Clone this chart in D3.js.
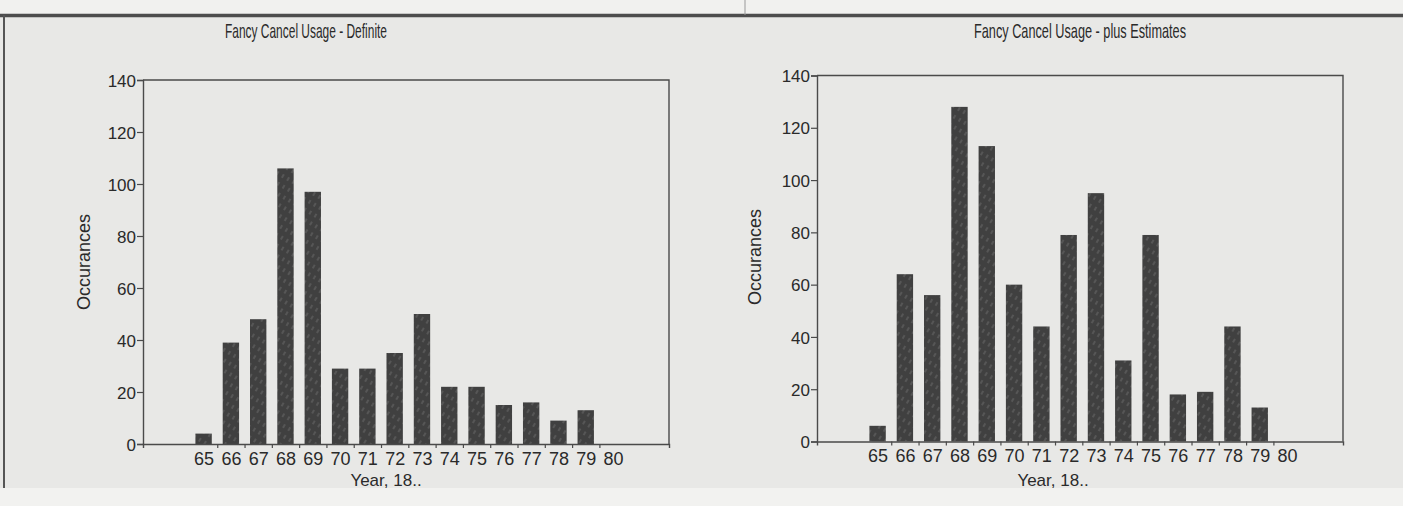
<!DOCTYPE html>
<html>
<head>
<meta charset="utf-8">
<script src="https://cdn.jsdelivr.net/npm/d3@7"></script>
<style>
  body { margin: 0; background: #e8e8e6; }
  svg { display: block; }
  text { fill: #2a2a2a; font-family: "Liberation Sans", Arial, sans-serif; }
</style>
</head>
<body>
<div id="chart"></div>
<script>
// data
const years = [65, 66, 67, 68, 69, 70, 71, 72, 73, 74, 75, 76, 77, 78, 79];
const tickLabels = [65, 66, 67, 68, 69, 70, 71, 72, 73, 74, 75, 76, 77, 78, 79, 80];
const definite = [4, 39, 48, 106, 97, 29, 29, 35, 50, 22, 22, 15, 16, 9, 13];
const estimates = [6, 64, 56, 128, 113, 60, 44, 79, 95, 31, 79, 18, 19, 44, 13];
const yTicks = [0, 20, 40, 60, 80, 100, 120, 140];
const titles = ["Fancy Cancel Usage - Definite", "Fancy Cancel Usage - plus Estimates"];

const W = 1403, H = 506;

const svg = d3.select("#chart")
  .append("svg")
    .attr("width", W)
    .attr("height", H);

// hatch texture for the bars
const defs = svg.append("defs");
const pat = defs.append("pattern")
  .attr("id", "hatch")
  .attr("patternUnits", "userSpaceOnUse")
  .attr("width", 6)
  .attr("height", 9)
  .attr("patternTransform", "rotate(30)");
pat.append("rect").attr("width", 6).attr("height", 9).attr("fill", "#404040");
pat.append("line")
  .attr("x1", 3).attr("y1", 0).attr("x2", 3).attr("y2", 4)
  .attr("stroke", "#6c6c6c").attr("stroke-width", 1);

// paper / frame
svg.append("rect").attr("width", W).attr("height", 14).attr("fill", "#f1f1ef");
svg.append("rect").attr("y", 488).attr("width", W).attr("height", 18).attr("fill", "#f2f2f0");
svg.append("line")
  .attr("x1", 0).attr("x2", W).attr("y1", 15.5).attr("y2", 15.5)
  .attr("stroke", "#4d4d4d").attr("stroke-width", 3.5);
svg.append("line")
  .attr("x1", 4).attr("x2", 4).attr("y1", 15).attr("y2", 488)
  .attr("stroke", "#555").attr("stroke-width", 2);
svg.append("line")
  .attr("x1", 745).attr("x2", 745).attr("y1", 0).attr("y2", 15)
  .attr("stroke", "#999").attr("stroke-width", 1);

// panel layout
const panels = [
  {values: definite, title: titles[0], left: 143, right: 669, top: 80, bottom: 444,
   titleX: 306, titleLen: 162, yLabX: 90, yLabY: 262, xLabX: 386},
  {values: estimates, title: titles[1], left: 817, right: 1343, top: 75.5, bottom: 441.5,
   titleX: 1080, titleLen: 212, yLabX: 761, yLabY: 257, xLabX: 1053}
];

panels.forEach(p => {
  const g = svg.append("g");

  let x = d3.scaleLinear()
    .domain([62.78, 82.05])
    .range([p.left, p.right]);

  let y = d3.scaleLinear()
    .domain([0, 140])
    .range([p.bottom, p.top]);

  // bars
  g.append("g")
    .selectAll("rect")
    .data(years)
    .enter()
    .append("rect")
      .attr("x", (d) => x(d - 0.3))
      .attr("width", (d) => x(d + 0.3) - x(d - 0.3))
      .attr("y", (d, i) => y(p.values[i]))
      .attr("height", (d, i) => y(0) - y(p.values[i]))
      .attr("fill", "url(#hatch)");

  // frame (top + right)
  g.append("path")
    .attr("d", `M${p.left},${p.top}H${p.right}V${p.bottom}`)
    .attr("fill", "none")
    .attr("stroke", "#4a4a4a")
    .attr("stroke-width", 1.4);

  // y axis
  const yAxis = g.append("g")
    .attr("transform", `translate(${p.left},0)`)
    .call(d3.axisLeft(y).tickValues(yTicks).tickSize(6).tickPadding(1));
  yAxis.attr("font-size", null).attr("font-family", null);
  yAxis.selectAll("text").style("font-size", "17px").attr("fill", "#2a2a2a").attr("dy", "0.36em");

  // x axis: tick marks between years, labels at year centres
  g.append("g")
    .attr("transform", `translate(0,${p.bottom})`)
    .call(d3.axisBottom(x).tickValues(years.map(d => d + 0.5)).tickSize(4).tickFormat(""));

  const xLabAxis = g.append("g")
    .attr("transform", `translate(0,${p.bottom})`)
    .call(d3.axisBottom(x).tickValues(tickLabels).tickSize(0).tickPadding(8).tickFormat(d3.format("d")));
  xLabAxis.attr("font-size", null).attr("font-family", null);
  xLabAxis.select(".domain").remove();
  xLabAxis.selectAll("text").style("font-size", "18px").attr("fill", "#2a2a2a");

  g.selectAll(".domain").attr("stroke", "#4a4a4a").attr("stroke-width", 1.4);
  g.selectAll(".tick line").attr("stroke", "#4a4a4a").attr("stroke-width", 1.2);

  // title
  g.append("text")
    .attr("x", p.titleX)
    .attr("y", 38)
    .attr("text-anchor", "middle")
    .attr("textLength", p.titleLen)
    .attr("lengthAdjust", "spacingAndGlyphs")
    .style("font-size", "21px")
    .text(p.title);

  // axis labels
  g.append("text")
    .attr("transform", `translate(${p.yLabX},${p.yLabY}) rotate(-90)`)
    .attr("text-anchor", "middle")
    .style("font-size", "18px")
    .text("Occurances");

  g.append("text")
    .attr("x", p.xLabX)
    .attr("y", 486)
    .attr("text-anchor", "middle")
    .style("font-size", "17px")
    .text("Year, 18..");
});
</script>
</body>
</html>
